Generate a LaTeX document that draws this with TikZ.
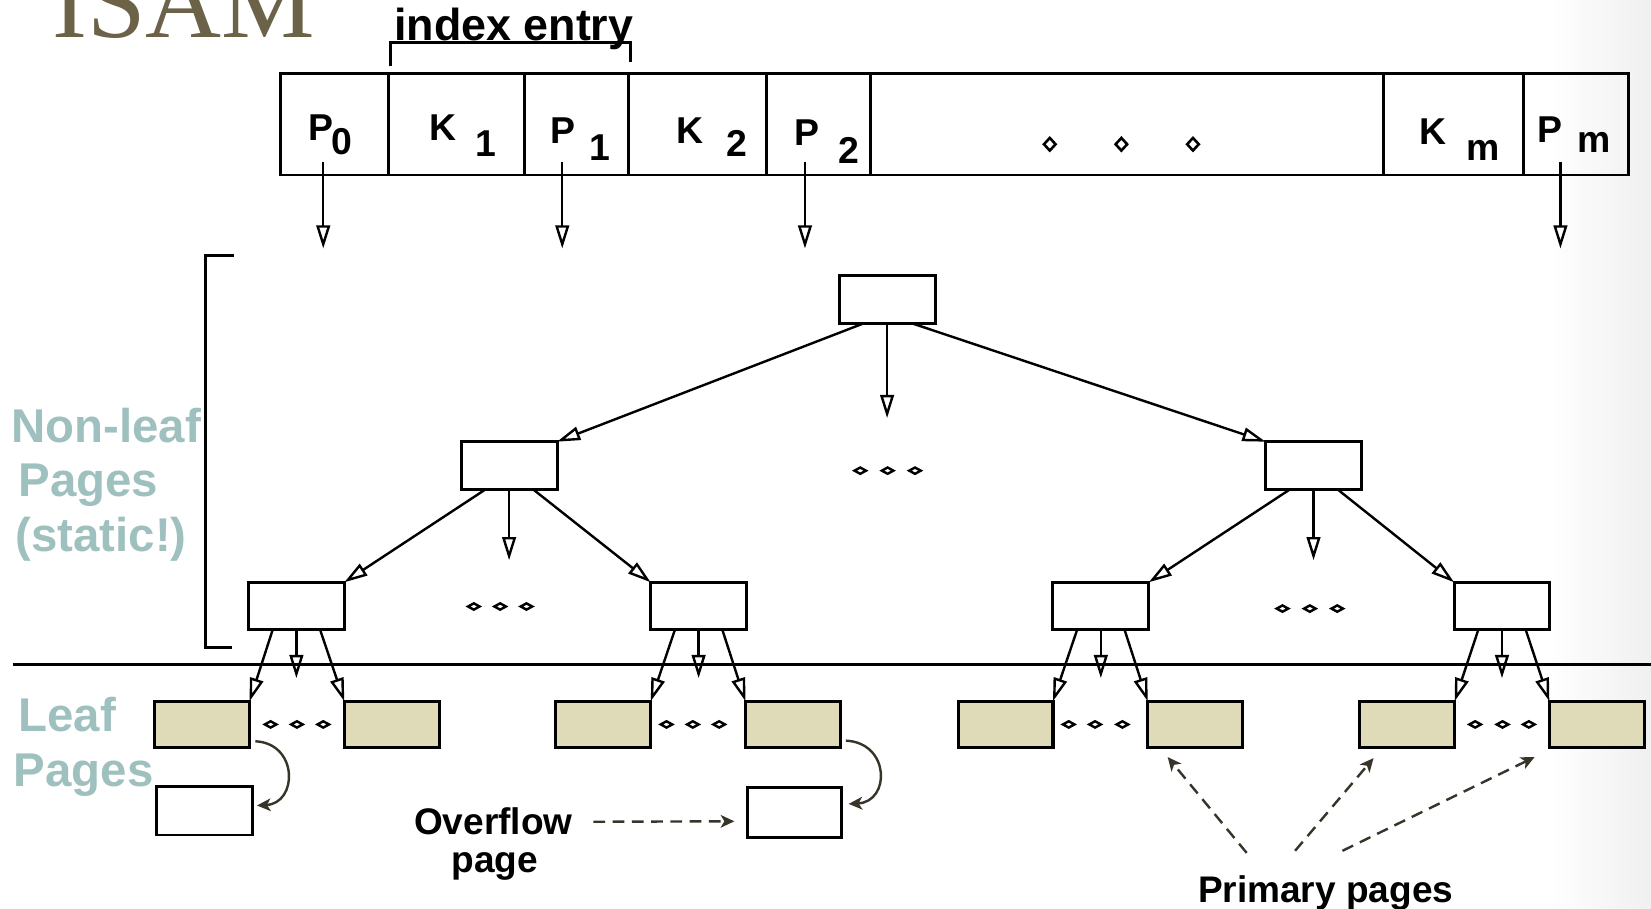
\documentclass[tikz,border=0pt]{standalone}
\usepackage{fontspec}
\setmainfont{Liberation Sans}
\newfontfamily\titleserif{Liberation Serif}
\usetikzlibrary{arrows.meta,calc}

\definecolor{titlec}{RGB}{107,98,72}
\definecolor{tealc}{RGB}{158,192,190}
\definecolor{leafc}{RGB}{223,219,184}
\definecolor{darkc}{RGB}{56,52,42}

\tikzset{
  page/.style={draw, line width=0.8pt, minimum width=0.91cm, minimum height=0.45cm, inner sep=0pt, outer sep=0pt},
  leafpage/.style={page, fill=leafc, minimum width=0.90cm, minimum height=0.44cm, line width=0.85pt},
  tri/.style={line width=0.65pt, -{Triangle[open, length=0.22cm, width=0.13cm]}},
  soft/.style={draw=darkc, line width=0.65pt, -{Stealth[length=0.13cm, width=0.12cm, inset=0.035cm]}},
  softdash/.style={soft, dash pattern=on 3.2pt off 2pt},
  lbl/.style={inner sep=0pt, anchor=base, font=\bfseries\fontsize{10.1}{12}\selectfont},
  side/.style={inner sep=0pt, anchor=base west, text=tealc, font=\bfseries\fontsize{12.8}{15}\selectfont},
  note/.style={inner sep=0pt, anchor=base, font=\bfseries\fontsize{10}{12}\selectfont},
  dots/.pic={\draw[line width=0.65pt] (-5.5,0) -- (0,-3) -- (5.5,0) -- (0,3) -- cycle;},
  rdots/.pic={\draw[line width=0.7pt] (-5.5,0) -- (0,-6) -- (5.5,0) -- (0,6) -- cycle;}
}

\begin{document}
\begin{tikzpicture}[x=0.01cm, y=-0.01cm]
\useasboundingbox (0,0) rectangle (1568,863);
\shade[left color=white, right color=black!6] (1470,0) rectangle (1568,863);

% title
\node[inner sep=0pt, anchor=base west, text=titlec, font=\titleserif\fontsize{28.4}{30}\selectfont] (title) at (49,36) {ISAM};

% index entry bracket
\node[inner sep=0pt, anchor=base, font=\bfseries\fontsize{12.1}{14}\selectfont] (ientry) at (488,38) {index entry};
\draw[line width=0.75pt] (370.5,63) -- (370.5,40.5) -- (599,40.5) -- (599,58.5);

% index page record
\node[draw, line width=0.7pt, minimum width=12.79cm, minimum height=0.96cm, inner sep=0pt, outer sep=0pt] (rec) at (906.5,118) {};
\foreach \x in {369,498,597,728,827,1314,1447}
  \draw[line width=0.7pt] (\x,70) -- (\x,166);

\node[lbl] (p0) at (305,133) {P};   \node[lbl] (p0s) at (325,147) {0};
\node[lbl] (k1) at (421,133) {K};   \node[lbl] (k1s) at (461,149) {1};
\node[lbl] (p1) at (535,136) {P};   \node[lbl] (p1s) at (570,152) {1};
\node[lbl] (k2) at (655,136) {K};   \node[lbl] (k2s) at (700,149) {2};
\node[lbl] (p2) at (766,138) {P};   \node[lbl] (p2s) at (806,155) {2};
\node[lbl] (km) at (1361,137) {K};  \node[lbl] (kms) at (1409,152) {m};
\node[lbl] (pm) at (1472,135) {P};  \node[lbl] (pms) at (1514,145) {m};
\foreach \x in {997,1065,1133} \pic at (\x,137) {rdots};

% pointer arrows leaving the record
\coordinate (ptr0) at (307,153.5);
\coordinate (ptr1) at (534,153.5);
\coordinate (ptr2) at (764.5,153.5);
\coordinate (ptrm) at (1482,153.5);
\foreach \p in {ptr0,ptr1,ptr2,ptrm}
  \draw[tri] (\p) -- ++(0,82.5);

% side labels
\draw[line width=0.75pt] (222,243) -- (195,243) -- (195,615) -- (220,615);
\node[side] (nl1) at (10,420) {Non-leaf};
\node[side] (nl2) at (17,472) {Pages};
\node[side] (nl3) at (14,524) {(static!)};
\node[side] (lf1) at (17,695) {Leaf};
\node[side] (lf2) at (12.5,747) {Pages};
\draw[line width=0.85pt] (12,631) -- (1568,631);

% non-leaf pages
\node[page] (root) at (842.5,284.5) {};
\node[page] (l1a) at (483.5,442) {};
\node[page] (l1b) at (1247.5,442) {};
\node[page] (l2a) at (281.5,575.5) {};
\node[page] (l2b) at (663.5,575.5) {};
\node[page] (l2c) at (1045.5,575.5) {};
\node[page] (l2d) at (1426.5,575.5) {};

% primary leaf pages
\node[leafpage] (lfa) at (192,688) {};
\node[leafpage] (lfb) at (372,688) {};
\node[leafpage] (lfc) at (573,688) {};
\node[leafpage] (lfd) at (753,688) {};
\node[leafpage] (lfe) at (955,688) {};
\node[leafpage] (lff) at (1135,688) {};
\node[leafpage] (lfg) at (1336.5,688) {};
\node[leafpage] (lfh) at (1516.5,688) {};

% overflow pages
\node[page, minimum width=0.91cm, minimum height=0.46cm] (ofa) at (194,770) {};
\node[page, minimum width=0.90cm, minimum height=0.47cm] (ofb) at (754.5,771.5) {};

% root fan-out
\draw[tri] ($(root.south)+(-22,0)$) -- (l1a.north east);
\draw[tri] (root.south) -- ++(0,90);
\draw[tri] ($(root.south)+(23.5,0)$) -- (l1b.north west);
\foreach \x in {817,843,869} \pic at (\x,447) {dots};

% second level fan-out
\foreach \a/\l/\r in {l1a/l2a/l2b, l1b/l2c/l2d}{
  \draw[tri] ($(\a.south)+(-22,0)$) -- (\l.north east);
  \draw[tri] (\a.south) -- ++(0,67.5);
  \draw[tri] ($(\a.south)+(22.5,0)$) -- (\r.north west);
}
\foreach \x in {450,475,500} \pic at (\x,576) {dots};
\foreach \x in {1218,1244,1270} \pic at (\x,578) {dots};

% leaf fan-out
\foreach \a/\l/\r in {l2a/lfa/lfb, l2b/lfc/lfd, l2c/lfe/lff, l2d/lfg/lfh}{
  \draw[tri] ($(\a.south)+(-22.5,0)$) -- (\l.north east);
  \draw[tri] (\a.south) -- ++(0,46);
  \draw[tri] ($(\a.south)+(22.5,0)$) -- (\r.north west);
}
\foreach \x in {257,282,307, 633,658,683, 1015,1040,1066, 1401,1427,1452}
  \pic at (\x,688) {dots};

% overflow chains
\draw[soft] ($(lfa.south east)+(5.5,-6)$) .. controls +(41,2) and +(39,-2) .. ($(ofa.east)+(4.5,-5)$);
\draw[soft] ($(lfd.south east)+(5.4,-6.6)$) .. controls +(42,2) and +(40,-2) .. ($(ofb.east)+(6.4,-8)$);

% annotations
\node[note] (ovf) at (468.5,793) {Overflow};
\node[note] (ovfp) at (470,829) {page};
\coordinate (ovfend) at ($(ofb.west)+(-12,8.5)$);
\draw[softdash] ($(ovf.east)+(19,0)$ |- ovfend) -- (ovfend);

\node[note] (prim) at (1259,857) {Primary pages};
\coordinate (pa1) at (1184,810);
\coordinate (pa2) at (1230,808);
\coordinate (pa3) at (1275,808);
\draw[softdash] (pa1) -- ($(lff.south west)+(19,9)$);
\draw[softdash] (pa2) -- ($(lfg.south west)+(13,10)$);
\draw[softdash] (pa3) -- ($(lfh.south west)+(-14,9)$);
\end{tikzpicture}
\end{document}
